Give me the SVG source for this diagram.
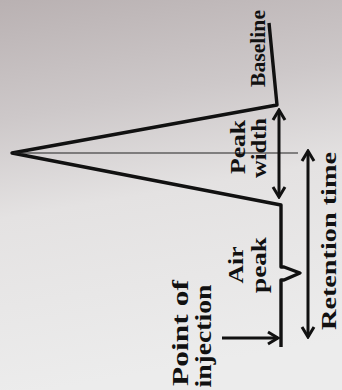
<svg xmlns="http://www.w3.org/2000/svg" width="342" height="390" viewBox="0 0 342 390">
  <defs>
    <linearGradient id="paper" x1="0" y1="0" x2="0.15" y2="1">
      <stop offset="0" stop-color="#b9b1b2"/>
      <stop offset="0.3" stop-color="#cdc8c9"/>
      <stop offset="0.55" stop-color="#e4e2e2"/>
      <stop offset="1" stop-color="#ececec"/>
    </linearGradient>
    <marker id="chev" viewBox="-12 -8 14 16" refX="0" refY="0" markerWidth="14" markerHeight="16" markerUnits="userSpaceOnUse" orient="auto-start-reverse">
      <path d="M-10,-6 L0,0 L-10,6" fill="none" stroke="#111" stroke-width="3" stroke-linejoin="miter"/>
    </marker>
    <style>
      .trace { fill: none; stroke: #111; stroke-width: 3.4; stroke-linejoin: round; stroke-linecap: butt; }
      .thin { fill: none; stroke: #222; stroke-width: 1.2; }
      .arrow { fill: none; stroke: #111; stroke-width: 3; }
      .lbl { font-family: "Liberation Serif", "DejaVu Serif", serif; font-weight: bold; fill: #111; text-anchor: middle; }
    </style>
  </defs>

  <!-- page background -->
  <rect x="0" y="0" width="342" height="390" fill="url(#paper)"/>

  <!-- chromatogram trace: baseline, main peak and air peak -->
  <g id="trace">
    <path class="trace" d="M269,23 L277,105 L12,153 L281,205 L281,267 L284,267 L300,273 L284,280 L281,280 L281,347"/>
    <line class="thin" x1="14" y1="153" x2="298" y2="153"/>
  </g>

  <!-- dimension arrows -->
  <g id="connectors">
    <line id="peak-width-arrow" class="arrow" x1="279" y1="197" x2="279" y2="110" marker-start="url(#chev)" marker-end="url(#chev)"/>
    <line id="retention-arrow" class="arrow" x1="308" y1="337" x2="308" y2="151" marker-start="url(#chev)" marker-end="url(#chev)"/>
    <line id="injection-arrow" class="arrow" x1="222" y1="338" x2="278" y2="338" marker-end="url(#chev)"/>
  </g>

  <!-- labels -->
  <g id="baseline-label">
    <text class="lbl" font-size="22" transform="translate(265,48.5) rotate(-90)" textLength="77" lengthAdjust="spacingAndGlyphs">Baseline</text>
  </g>
  <g id="peak-width-label">
    <text class="lbl" font-size="22" transform="translate(245,147) rotate(-90)" textLength="54" lengthAdjust="spacingAndGlyphs">Peak</text>
    <text class="lbl" font-size="22" transform="translate(266,148) rotate(-90)" textLength="60" lengthAdjust="spacingAndGlyphs">width</text>
  </g>
  <g id="air-peak-label">
    <text class="lbl" font-size="22" transform="translate(243,265) rotate(-90)" textLength="37" lengthAdjust="spacingAndGlyphs">Air</text>
    <text class="lbl" font-size="22" transform="translate(266,265) rotate(-90)" textLength="56" lengthAdjust="spacingAndGlyphs">peak</text>
  </g>
  <g id="injection-label">
    <text class="lbl" font-size="23" transform="translate(188,333) rotate(-90)" textLength="106" lengthAdjust="spacingAndGlyphs">Point of</text>
    <text class="lbl" font-size="23" transform="translate(211,336) rotate(-90)" textLength="103" lengthAdjust="spacingAndGlyphs">injection</text>
  </g>
  <g id="retention-label">
    <text class="lbl" font-size="22" transform="translate(336,241) rotate(-90)" textLength="178" lengthAdjust="spacingAndGlyphs">Retention time</text>
  </g>
</svg>
